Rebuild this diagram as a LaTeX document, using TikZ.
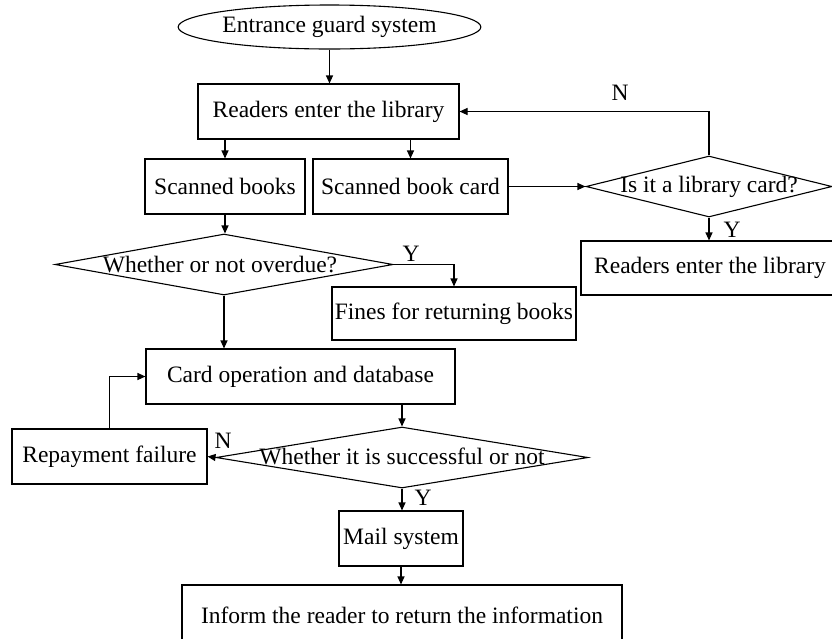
\documentclass[tikz,border=0pt]{standalone}
\usepackage{fontspec}
\setmainfont{Liberation Serif}
\usepackage{tikz}
\usetikzlibrary{arrows.meta,shapes.geometric}

\tikzset{
    box/.style={draw,rectangle,inner sep=0pt,line width=1.1pt},
    decision/.style={draw,diamond,inner sep=0pt,line width=1.1pt},
    startnode/.style={draw,ellipse,inner sep=0pt,line width=1.1pt},
    arr/.style={-{Triangle[length=8pt,width=7pt]},line width=1.1pt},
    yn/.style={inner sep=0pt}
}

\begin{document}
\begin{tikzpicture}[x=1pt,y=-1pt,font=\fontsize{23.5}{28}\selectfont]
    \useasboundingbox (0,0) rectangle (832,638);
    % nodes
    \node[startnode,minimum width=245pt,minimum height=44pt] (guard) at (329.5,27) {Entrance guard system};
    \node[box,minimum width=261pt,minimum height=55pt] (readers) at (328.5,111.5) {Readers enter the library};
    \node[box,minimum width=160pt,minimum height=55pt] (scanbooks) at (225,186.5) {Scanned books};
    \node[box,minimum width=195pt,minimum height=55pt] (scancard) at (410.5,186.5) {Scanned book card};
    \node[decision,minimum width=246pt,minimum height=61pt,label=center:{Is it a library card?}] (cardq) at (709,186.5) {};
    \node[box,minimum width=258pt,minimum height=54pt] (enter) at (710,268) {Readers enter the library};
    \node[decision,minimum width=338pt,minimum height=61pt,label={[xshift=-4pt]center:{Whether or not overdue?}}] (overdue) at (224,264.5) {};
    \node[box,minimum width=244pt,minimum height=53pt] (fines) at (454,313.5) {Fines for returning books};
    \node[box,minimum width=309pt,minimum height=55pt] (cardop) at (300.5,376.5) {Card operation and database};
    \node[decision,minimum width=372pt,minimum height=61pt,label={[yshift=1pt]center:{Whether it is successful or not}}] (success) at (402,457.5) {};
    \node[box,minimum width=195pt,minimum height=55pt] (repay) at (109.5,456.5) {Repayment failure};
    \node[box,minimum width=124pt,minimum height=55pt] (mail) at (401,538.5) {Mail system};
    \node[box,minimum width=440pt,minimum height=60pt] (inform) at (402,615) {Inform the reader to return the information};
    % labels
    \node[yn] (n1) at (620,93) {N};
    \node[yn] (y1) at (732,230) {Y};
    \node[yn] (y2) at (411,254) {Y};
    \node[yn] (n2) at (223,441) {N};
    \node[yn] (y3) at (423,498) {Y};
    % connectors
    \draw[arr] (guard.south) -- (guard.south |- readers.north);
    \draw[arr] (readers.south -| scanbooks.north) -- (scanbooks.north);
    \draw[arr] (readers.south -| scancard.north) -- (scancard.north);
    \draw[arr] (scancard.east) -- (cardq.west);
    \draw[arr] (cardq.north) |- (readers.east);
    \draw[arr] (cardq.south) -- (cardq.south |- enter.north);
    \draw[arr] (scanbooks.south) -- (scanbooks.south |- overdue.north);
    \draw[arr] (overdue.east) -| (fines.north);
    \draw[arr] (overdue.south) -- (overdue.south |- cardop.north);
    \draw[arr] (cardop.south -| success.north) -- (success.north);
    \draw[arr] (success.west) -- (repay.east);
    \draw[arr] (repay.north) |- (cardop.west);
    \draw[arr] (success.south) -- (success.south |- mail.north);
    \draw[arr] (mail.south) -- (mail.south |- inform.north);
\end{tikzpicture}
\end{document}
